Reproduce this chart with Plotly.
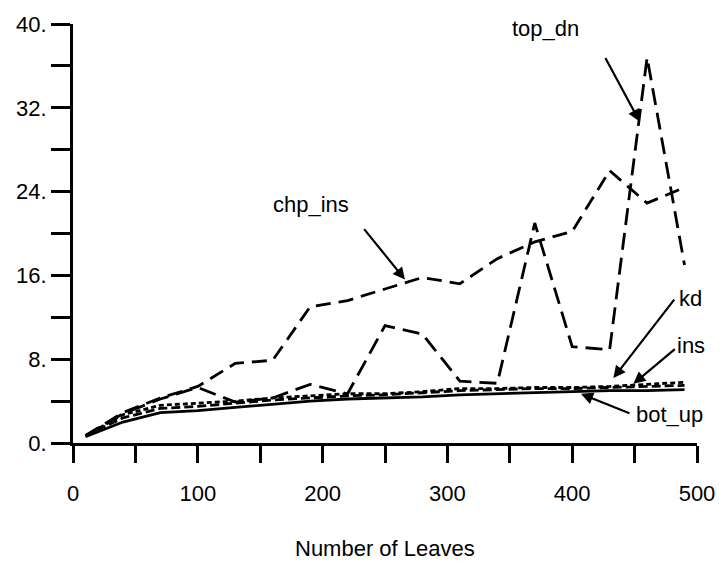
import plotly.graph_objects as go

# Number of leaves at which each method was measured
leaves = [10, 40, 70, 100, 130, 160, 190, 220, 250, 280, 310, 340, 370, 400, 430, 460, 490]

# Measured cost per method
bot_up = [0.6, 2.0, 2.9, 3.1, 3.4, 3.7, 4.0, 4.2, 4.3, 4.4, 4.6, 4.7, 4.8, 4.9, 5.0, 5.0, 5.1]
kd = [0.7, 2.4, 3.3, 3.5, 3.8, 4.1, 4.3, 4.5, 4.6, 4.8, 5.0, 5.1, 5.2, 5.2, 5.3, 5.4, 5.5]
ins = [0.7, 2.7, 3.6, 3.8, 4.0, 4.3, 4.5, 4.7, 4.7, 4.9, 5.2, 5.2, 5.3, 5.3, 5.4, 5.6, 5.8]
chp_ins = [0.7, 2.9, 4.3, 5.4, 7.6, 7.9, 13.0, 13.6, 14.7, 15.8, 15.2, 17.6, 19.2, 20.2, 26.0, 22.9, 24.4]
top_dn = [0.7, 2.8, 4.2, 5.3, 3.9, 4.3, 5.6, 4.7, 11.2, 10.4, 5.9, 5.7, 21.0, 9.2, 8.9, 36.8, 17.0]

x_ticks = [0, 50, 100, 150, 200, 250, 300, 350, 400, 450, 500]
x_ticktext = ["0", "", "100", "", "200", "", "300", "", "400", "", "500"]
y_ticks = [0, 4, 8, 12, 16, 20, 24, 28, 32, 36, 40]
y_ticktext = ["0.", "", "8.", "", "16.", "", "24.", "", "32.", "", "40."]

FONT = "Liberation Sans, Arial, sans-serif"

series = [
    ("bot_up", bot_up, "solid"),
    ("kd", kd, "9px,4px"),
    ("ins", ins, "5px,3px"),
    ("chp_ins", chp_ins, "15px,8px"),
    ("top_dn", top_dn, "17px,8px"),
]

fig = go.Figure()
for name, vals, dash in series:
    fig.add_trace(go.Scatter(
        x=leaves, y=vals, mode="lines", name=name,
        line=dict(color="black", width=2.8, dash=dash),
        showlegend=False, hoverinfo="skip",
    ))

# Labels with arrows pointing at their curves: (text, tip x, tip y, tail dx, tail dy, text x, text y)
callouts = [
    ("top_dn", 454, 30.7, -35, -65, 379, 39.6),
    ("chp_ins", 266, 15.6, -42, -52, 191, 22.8),
    ("kd", 433, 6.2, 62, -80, 495, 13.8),
    ("ins", 449, 5.65, 43, -36, 495, 9.3),
    ("bot_up", 407, 4.7, 50, 20, 478, 2.7),
]

annotations = []
for text, tx, ty, dx, dy, lx, ly in callouts:
    annotations.append(dict(
        x=tx, y=ty, xref="x", yref="y", text="", showarrow=True,
        ax=dx, ay=dy, arrowhead=2, arrowsize=1.1, arrowwidth=2.2,
        arrowcolor="black", standoff=0,
    ))
    annotations.append(dict(
        x=lx, y=ly, xref="x", yref="y", text=text, showarrow=False,
        font=dict(family=FONT, size=22, color="black"),
        xanchor="center", yanchor="middle",
    ))

annotations.append(dict(
    x=0.5, y=0, xref="paper", yref="paper", text="Number of Leaves",
    showarrow=False, yshift=-105, xanchor="center", yanchor="middle",
    font=dict(family=FONT, size=22, color="black"),
))

fig.update_layout(
    width=727, height=563,
    margin=dict(l=73, r=22, t=18, b=120),
    paper_bgcolor="white", plot_bgcolor="white",
    annotations=annotations,
    font=dict(family=FONT, size=22, color="black"),
)

fig.update_xaxes(
    range=[0, 500], tickvals=x_ticks, ticktext=x_ticktext,
    ticks="outside", ticklen=17, tickwidth=2.8, tickcolor="black",
    showline=True, linewidth=2.8, linecolor="black",
    showgrid=False, zeroline=False, ticklabelstandoff=12,
    tickfont=dict(family=FONT, size=22, color="black"),
)
fig.update_yaxes(
    range=[0, 40], tickvals=y_ticks, ticktext=y_ticktext,
    ticks="outside", ticklen=19, tickwidth=2.8, tickcolor="black",
    showline=True, linewidth=2.8, linecolor="black",
    showgrid=False, zeroline=False,
    tickfont=dict(family=FONT, size=22, color="black"),
)

fig.write_html("out.html")
